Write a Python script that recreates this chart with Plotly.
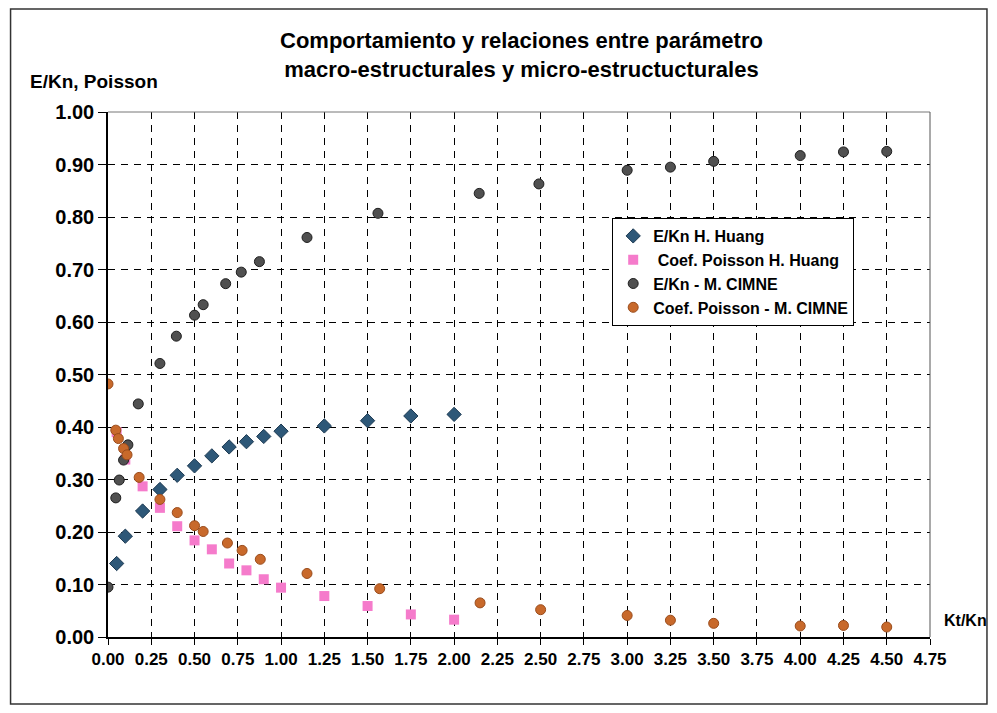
import plotly.graph_objects as go

# ---- data ----
huang_x = [0.05, 0.1, 0.2, 0.3, 0.4, 0.5, 0.6, 0.7, 0.8, 0.9, 1.0, 1.25, 1.5, 1.75, 2.0]
huang_ekn = [0.140, 0.192, 0.240, 0.281, 0.308, 0.326, 0.345, 0.362, 0.372, 0.382, 0.392, 0.402, 0.412, 0.421, 0.424]
huang_pois_x = [0.05, 0.1, 0.2, 0.3, 0.4, 0.5, 0.6, 0.7, 0.8, 0.9, 1.0, 1.25, 1.5, 1.75, 2.0]
huang_pois = [0.390, 0.338, 0.287, 0.246, 0.211, 0.184, 0.167, 0.140, 0.127, 0.110, 0.094, 0.078, 0.059, 0.043, 0.033]

cimne_x = [0, 0.045, 0.065, 0.09, 0.115, 0.175, 0.30, 0.395, 0.50, 0.55, 0.68, 0.77, 0.875,
           1.15, 1.56, 2.145, 2.49, 3.0, 3.25, 3.5, 4.0, 4.25, 4.5]
cimne_ekn = [0.095, 0.265, 0.299, 0.337, 0.366, 0.444, 0.521, 0.573, 0.613, 0.633, 0.673, 0.695, 0.715,
             0.761, 0.807, 0.845, 0.863, 0.889, 0.895, 0.906, 0.917, 0.924, 0.925]
cimne_pois_x = [0, 0.045, 0.06, 0.09, 0.11, 0.18, 0.30, 0.40, 0.50, 0.55, 0.69, 0.775, 0.88,
                1.15, 1.57, 2.15, 2.5, 3.0, 3.25, 3.5, 4.0, 4.25, 4.5]
cimne_pois = [0.482, 0.394, 0.378, 0.359, 0.347, 0.304, 0.262, 0.237, 0.212, 0.201, 0.179, 0.165, 0.148,
              0.121, 0.092, 0.065, 0.052, 0.041, 0.032, 0.026, 0.021, 0.022, 0.019]

x_ticks = [i * 0.25 for i in range(20)]
y_ticks = [i * 0.1 for i in range(11)]

title_lines = ["Comportamiento y relaciones entre parámetro",
               "macro-estructurales y micro-estructucturales"]
FONT = "Arial, 'Liberation Sans', sans-serif"

fig = go.Figure()
fig.add_trace(go.Scatter(x=huang_x, y=huang_ekn, mode="markers", name="<b>E/Kn H. Huang</b>",
                         marker=dict(symbol="diamond", size=11, color="#2E5878",
                                     line=dict(color="#1d3a52", width=1))))
fig.add_trace(go.Scatter(x=huang_pois_x, y=huang_pois, mode="markers", name="<b> Coef. Poisson H. Huang</b>",
                         marker=dict(symbol="square", size=10, color="#F57BCB",
                                     line=dict(color="#F57BCB", width=0))))
fig.add_trace(go.Scatter(x=cimne_x, y=cimne_ekn, mode="markers", name="<b>E/Kn - M. CIMNE</b>",
                         marker=dict(symbol="circle", size=10, color="#505050",
                                     line=dict(color="#1e1e1e", width=1))))
fig.add_trace(go.Scatter(x=cimne_pois_x, y=cimne_pois, mode="markers", name="<b>Coef. Poisson - M. CIMNE</b>",
                         marker=dict(symbol="circle", size=10, color="#C8692B",
                                     line=dict(color="#9a4c1c", width=1))))

# page offset (default body margin of the html page)
OFF = 8
W, H = 997 - 2 * OFF, 713 - 2 * OFF
# plot area in page pixels
L, R, T, B = 107.5, 930, 112, 637
pw, ph = R - L, B - T

def px(xp):
    return (xp - L) / pw

def py(yp):
    return (B - yp) / ph

fig.update_layout(
    width=W, height=H,
    margin=dict(l=L - OFF, r=W - (R - OFF), t=T - OFF, b=H - (B - OFF)),
    paper_bgcolor="white", plot_bgcolor="white",
    font=dict(family=FONT, color="black"),
    showlegend=True,
    legend=dict(x=px(612), y=py(218), xanchor="left", yanchor="top",
                bgcolor="white", bordercolor="black", borderwidth=1,
                font=dict(size=16, family=FONT, color="black"),
                itemwidth=30, tracegroupgap=0),
    xaxis=dict(range=[0, 4.75], tickvals=x_ticks, tickformat=".2f",
               showgrid=True, gridcolor="black", gridwidth=1, griddash="7px,6px",
               zeroline=False, showline=True, linecolor="black", linewidth=1.5,
               ticks="outside", ticklen=6, tickcolor="black",
               tickfont=dict(size=17, family=FONT, color="black", weight="bold")),
    yaxis=dict(range=[0, 1.0], tickvals=y_ticks, tickformat=".2f",
               showgrid=True, gridcolor="black", gridwidth=1, griddash="7px,6px",
               zeroline=False, showline=True, linecolor="black", linewidth=1.5,
               ticks="outside", ticklen=8, tickcolor="black",
               tickfont=dict(size=20, family=FONT, color="black", weight="bold")),
    shapes=[
        dict(type="line", xref="paper", yref="paper", x0=0, x1=1, y0=1, y1=1,
             line=dict(color="#777777", width=1), layer="above"),
        dict(type="line", xref="paper", yref="paper", x0=1, x1=1, y0=0, y1=1,
             line=dict(color="#555555", width=1), layer="above"),
        dict(type="rect", xref="paper", yref="paper", x0=px(10), x1=px(987), y0=py(704), y1=py(9),
             line=dict(color="#333333", width=1.5), layer="below"),
    ],
    annotations=[
        dict(text="<b>" + "<br>".join(title_lines) + "</b>", xref="paper", yref="paper",
             x=px(521), y=py(55), xanchor="center", yanchor="middle", showarrow=False,
             font=dict(size=22, family=FONT, color="black")),
        dict(text="<b>E/Kn, Poisson</b>", xref="paper", yref="paper",
             x=px(27), y=py(82), xanchor="left", yanchor="middle", showarrow=False,
             font=dict(size=19, family=FONT, color="black")),
        dict(text="<b>Kt/Kn</b>", xref="paper", yref="paper",
             x=px(942), y=py(620), xanchor="left", yanchor="middle", showarrow=False,
             font=dict(size=16, family=FONT, color="black")),
    ],
)

fig.write_html("out.html")
